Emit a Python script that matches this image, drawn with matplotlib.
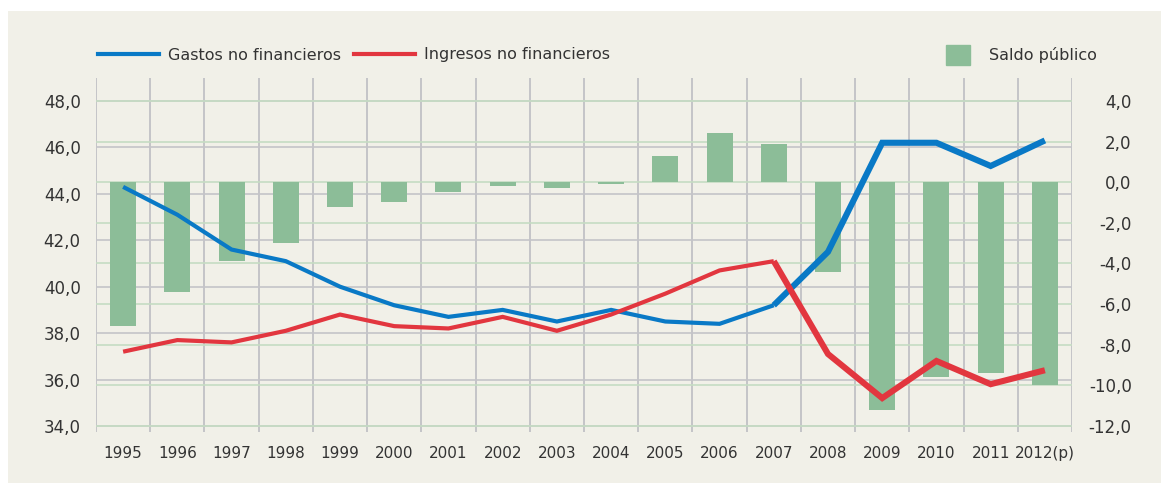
import matplotlib
matplotlib.use('Agg')
import matplotlib.pyplot as plt
from matplotlib.patches import Rectangle, Patch
from matplotlib.lines import Line2D

# datos
years = ['1995', '1996', '1997', '1998', '1999', '2000', '2001', '2002', '2003',
         '2004', '2005', '2006', '2007', '2008', '2009', '2010', '2011', '2012(p)']
gastos = [44.3, 43.1, 41.6, 41.1, 40.0, 39.2, 38.7, 39.0, 38.5,
          39.0, 38.5, 38.4, 39.2, 41.5, 46.2, 46.2, 45.2, 46.3]
ingresos = [37.2, 37.7, 37.6, 38.1, 38.8, 38.3, 38.2, 38.7, 38.1,
            38.8, 39.7, 40.7, 41.1, 37.1, 35.2, 36.8, 35.8, 36.4]
saldo = [-7.1, -5.4, -3.9, -3.0, -1.2, -1.0, -0.5, -0.2, -0.3,
         -0.1, 1.3, 2.4, 1.9, -4.4, -11.2, -9.6, -9.4, -10.0]

left_ticks = [34, 36, 38, 40, 42, 44, 46, 48]
right_ticks = [-12, -10, -8, -6, -4, -2, 0, 2, 4]

blue = '#0979C6'
red = '#E2363F'
green = '#8CBD98'
gray = '#C4C4C8'
green_grid = '#C5DCC3'
bg = '#F1F0E8'
txt = '#333333'

plt.rcParams['font.family'] = ['DejaVu Sans Condensed', 'DejaVu Sans']

fig = plt.figure(figsize=(11.61, 4.83), dpi=100, facecolor='white')
fig.add_artist(Rectangle((8 / 1161, 0), 1, 1 - 11 / 483, transform=fig.transFigure,
                         facecolor=bg, edgecolor='none', zorder=-10))

pos = [96 / 1161, 51 / 483, 976 / 1161, 354 / 483]
x = list(range(len(years)))

# eje izquierdo: rejilla gris
ax = fig.add_axes(pos)
ax.patch.set_visible(False)
ax.set_xlim(-0.5, len(years) - 0.5)
ax.set_ylim(33.74, 48.99)
for v in left_ticks:
    ax.axhline(v, color=gray, lw=1.2, zorder=1)
ax.vlines([i - 0.5 for i in range(len(years) + 1)], 0, 1,
          transform=ax.get_xaxis_transform(), color=gray, lw=1.4, zorder=1)
ax.set_yticks(left_ticks)
ax.set_yticklabels([f'{v:.1f}'.replace('.', ',') for v in left_ticks])
ax.set_xticks(x)
ax.set_xticklabels(years)
ax.tick_params(length=0, colors=txt)
ax.tick_params(axis='y', pad=11, labelsize=12)
ax.tick_params(axis='x', pad=10, labelsize=11)
for s in ax.spines.values():
    s.set_visible(False)

# eje derecho: saldo público
ax2 = ax.twinx()
ax2.set_ylim(-12.30, 5.13)
for v in right_ticks:
    ax2.axhline(v, color=green_grid, lw=1.2, zorder=1)
bars = ax2.bar(x, saldo, width=0.48, color=green, zorder=2)
ax2.set_yticks(right_ticks)
ax2.set_yticklabels([f'{v:.1f}'.replace('.', ',') for v in right_ticks], ha='right')
ax2.tick_params(length=0, labelsize=12, colors=txt, pad=43)
for s in ax2.spines.values():
    s.set_visible(False)

# líneas encima
ax3 = fig.add_axes(pos, sharex=ax, sharey=ax)
ax3.patch.set_visible(False)
ax3.axis('off')
ax3.plot(x[:13], gastos[:13], color=blue, lw=3.0, solid_capstyle='butt', solid_joinstyle='miter')
ax3.plot(x[12:], gastos[12:], color=blue, lw=4.4, solid_capstyle='butt', solid_joinstyle='miter')
ax3.plot(x[:13], ingresos[:13], color=red, lw=3.0, solid_capstyle='butt', solid_joinstyle='miter')
ax3.plot(x[12:], ingresos[12:], color=red, lw=4.4, solid_capstyle='butt', solid_joinstyle='miter')

# leyendas
h1 = Line2D([], [], color=blue, lw=3.0)
h2 = Line2D([], [], color=red, lw=3.0)
fig.legend([h1, h2], ['Gastos no financieros', 'Ingresos no financieros'],
           loc='center left', bbox_to_anchor=(98 / 1161, 1 - 55 / 483), ncol=2,
           frameon=False, fontsize=11.5, labelcolor=txt, handlelength=3.8,
           handletextpad=0.6, columnspacing=0.8, borderpad=0, borderaxespad=0)
fig.legend([Patch(color=green)], ['Saldo público'],
           loc='center left', bbox_to_anchor=(946 / 1161, 1 - 55 / 483),
           frameon=False, fontsize=11.5, labelcolor=txt, handlelength=1.5, handleheight=1.5,
           handletextpad=1.2, borderpad=0, borderaxespad=0)

fig.savefig('out.png', dpi=100, facecolor='white')
